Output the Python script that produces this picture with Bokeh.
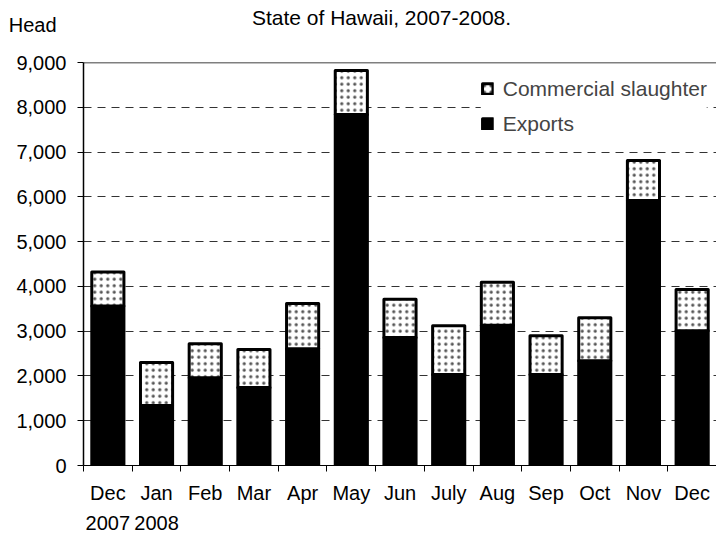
from bokeh.plotting import figure
from bokeh.models import (ColumnDataSource, FixedTicker, Legend, LegendItem, Span,
                          NumeralTickFormatter, LinearAxis, Range1d)
from bokeh.layouts import column
from bokeh.core.properties import value
from bokeh.embed import file_html
from bokeh.resources import INLINE

months = ["Dec", "Jan", "Feb", "Mar", "Apr", "May", "Jun", "July", "Aug", "Sep", "Oct", "Nov", "Dec"]
years = ["2007", "2008"]
exports = [3560, 1340, 1960, 1740, 2610, 7840, 2860, 2030, 3130, 2030, 2340, 5920, 3010]
totals = [4320, 2300, 2720, 2590, 3620, 8820, 3710, 3120, 4090, 2900, 3300, 6810, 3930]
slaughter = [t - e for t, e in zip(totals, exports)]
y_ticks = [0, 1000, 2000, 3000, 4000, 5000, 6000, 7000, 8000, 9000]
title_text = "State of Hawaii, 2007-2008."
unit_text = "Head"

pos = list(range(1, len(months) + 1))
src = ColumnDataSource(dict(x=pos, exports=exports, slaughter=slaughter))

FONT = "Liberation Sans"
W = 716
HEAD_H = 48
LEFT = 83

# ---- header strip (title + unit label) ----
h = figure(width=W, height=HEAD_H, output_backend="svg", toolbar_location=None,
           x_range=Range1d(LEFT, W), y_range=Range1d(HEAD_H, 0), min_border=0,
           min_border_left=LEFT, title=None, x_axis_location=None)
h.outline_line_color = None
h.xgrid.visible = False
h.ygrid.visible = False
hy = h.yaxis[0]
hy.ticker = FixedTicker(ticks=[])
hy.axis_line_color = None
hy.major_tick_line_color = None
hy.minor_tick_line_color = None
hy.major_tick_out = 0
hy.minor_tick_out = 0
hy.major_label_standoff = 0
hy.axis_label = unit_text
hy.axis_label_orientation = "horizontal"
hy.axis_label_text_font = FONT
hy.axis_label_text_font_size = "20px"
hy.axis_label_text_font_style = "normal"
hy.axis_label_text_color = "black"
hy.axis_label_standoff = 27
h.text(x=[381], y=[17], text=[title_text], text_font=value(FONT), text_font_size="21px",
       text_baseline="alphabetic", text_align="center", text_color="black")

# ---- main chart ----
p = figure(width=W, height=533 - HEAD_H, output_backend="svg", toolbar_location=None,
           title=None, x_range=(0.5, len(months) + 0.5), y_range=(0, 9000),
           min_border_left=LEFT, min_border_right=0, min_border_top=62 - HEAD_H,
           min_border_bottom=68)
p.outline_line_color = None
p.background_fill_color = "white"

rs = p.vbar_stack(["exports", "slaughter"], x="x", width=0.66, source=src,
                  fill_color=["black", "white"], line_color="black", line_width=3,
                  line_join="round",
                  hatch_pattern=[None, "dot"], hatch_color="#555555", hatch_scale=6.5,
                  hatch_weight=1.5)

# x axis: month labels, ticks at category boundaries
xa = p.xaxis[0]
xa.ticker = FixedTicker(ticks=pos, minor_ticks=[v + 0.5 for v in [0] + pos])
xa.major_label_overrides = {i: m for i, m in zip(pos, months)}
xa.major_tick_line_color = None
xa.major_tick_out = 6
xa.major_tick_in = 0
xa.minor_tick_out = 6
xa.minor_tick_in = 0
xa.minor_tick_line_color = "black"
xa.axis_line_color = "black"
xa.major_label_text_font = FONT
xa.major_label_text_font_size = "20px"
xa.major_label_text_color = "black"
xa.major_label_standoff = 10

# second row of x labels: years
xa2 = LinearAxis(ticker=FixedTicker(ticks=[1, 2]),
                 major_label_overrides={1: years[0], 2: years[1]})
xa2.axis_line_color = None
xa2.major_tick_line_color = None
xa2.minor_tick_line_color = None
xa2.major_tick_out = 0
xa2.major_tick_in = 0
xa2.major_label_text_font = FONT
xa2.major_label_text_font_size = "20px"
xa2.major_label_text_color = "black"
xa2.major_label_standoff = 9
p.add_layout(xa2, "below")

ya = p.yaxis[0]
ya.ticker = FixedTicker(ticks=y_ticks)
ya.formatter = NumeralTickFormatter(format="0,0")
ya.major_tick_out = 6
ya.major_tick_in = 0
ya.minor_tick_line_color = None
ya.axis_line_color = "black"
ya.axis_line_width = 1.5
ya.major_label_text_font = FONT
ya.major_label_text_font_size = "20px"
ya.major_label_text_color = "black"
ya.major_label_standoff = 11

p.xgrid.grid_line_color = None
p.ygrid.ticker = FixedTicker(ticks=y_ticks[1:-1])
p.ygrid.grid_line_color = "#333333"
p.ygrid.grid_line_dash = "8 6"
p.ygrid.grid_line_width = 1

legend = Legend(items=[LegendItem(label="Commercial slaughter", renderers=[rs[1]]),
                       LegendItem(label="Exports", renderers=[rs[0]])],
                location="top_right", border_line_color=None, background_fill_color="white",
                background_fill_alpha=1, label_text_font=FONT, label_text_font_size="21px",
                glyph_width=13, glyph_height=13, label_height=35, spacing=0, padding=9,
                margin=9, label_standoff=9)
p.add_layout(legend)

p.add_layout(Span(location=9000, dimension="width", line_color="black", line_width=1.5,
                  level="overlay"))

open("out.html", "w").write(file_html(column(h, p), INLINE))
